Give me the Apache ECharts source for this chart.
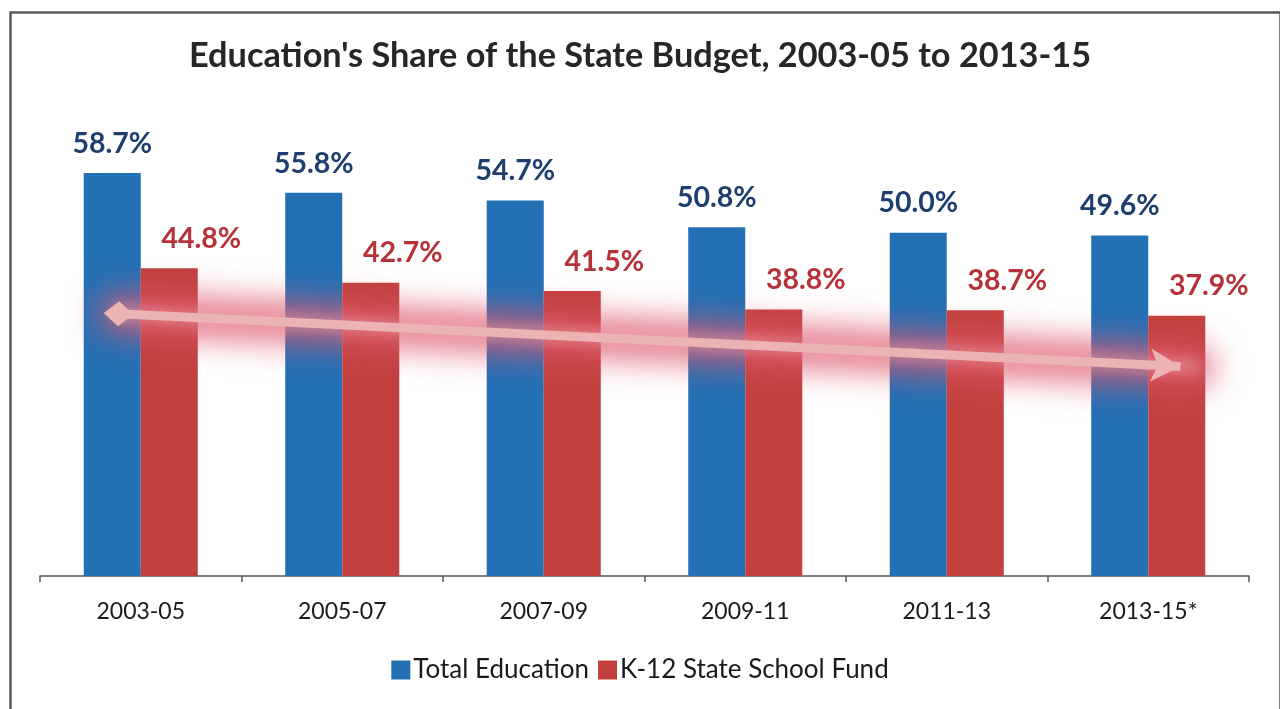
<!DOCTYPE html>
<html>
<head>
<meta charset="utf-8">
<title>Education's Share of the State Budget</title>
<script src="https://cdn.jsdelivr.net/npm/echarts@6/dist/echarts.min.js"></script>
<style>
  html, body { margin: 0; padding: 0; background: #ffffff; }
  #chart { width: 1280px; height: 709px; }
</style>
</head>
<body>
<div id="chart"></div>
<script>
// Biennia shown on the category axis
const biennia = ['2003-05', '2005-07', '2007-09', '2009-11', '2011-13', '2013-15*'];
// Share of the state budget, percent
const totalEducation = [58.7, 55.8, 54.7, 50.8, 50.0, 49.6];
const k12SchoolFund = [44.8, 42.7, 41.5, 38.8, 38.7, 37.9];
// Downward trend arrow, [position along the biennia (0-6), percent]
const trendStart = [0.39, 38.2];
const trendEnd = [5.66, 30.5];

const FONT = 'Lato, "Open Sans", sans-serif';
const chart = echarts.init(document.getElementById('chart'), null, { renderer: 'canvas' });

chart.setOption({
  backgroundColor: '#ffffff',
  animation: false,
  title: {
    text: "Education's Share of the State Budget, 2003-05 to 2013-15",
    left: 'center',
    top: 34,
    textStyle: { fontFamily: FONT, fontWeight: 'bold', fontSize: 34.3, color: '#262626' }
  },
  legend: {
    bottom: 21,
    left: 'center',
    icon: 'rect',
    itemWidth: 19,
    itemHeight: 19,
    itemGap: 9,
    data: ['Total Education', 'K-12 State School Fund'],
    textStyle: { fontFamily: FONT, fontSize: 26, color: '#1a1a1a', padding: [0, 0, 0, -2] }
  },
  grid: { left: 40, right: 31, top: 164, bottom: 133, containLabel: false },
  xAxis: [
    {
      type: 'category',
      data: biennia,
      axisLine: { lineStyle: { color: '#555555', width: 1.5 } },
      axisTick: { show: true, length: 6, lineStyle: { color: '#555555', width: 1.5 } },
      axisLabel: { fontFamily: FONT, fontSize: 23, color: '#1a1a1a', margin: 24 }
    },
    { type: 'value', min: 0, max: 6, show: false }
  ],
  yAxis: { type: 'value', min: 0, max: 60, show: false },
  series: [
    {
      name: 'Total Education',
      type: 'bar',
      data: totalEducation,
      barWidth: '28.3%',
      barGap: '0%',
      itemStyle: { color: '#2470b5' },
      label: {
        show: true, position: 'top', distance: 15,
        formatter: p => p.value.toFixed(1) + '%',
        fontFamily: FONT, fontWeight: 'bold', fontSize: 28.5, color: '#1e3f6d'
      }
    },
    {
      name: 'K-12 State School Fund',
      type: 'bar',
      data: k12SchoolFund,
      barWidth: '28.3%',
      itemStyle: { color: '#c2413f' },
      label: {
        show: true, position: 'top', distance: 15, offset: [32, 0],
        formatter: p => p.value.toFixed(1) + '%',
        fontFamily: FONT, fontWeight: 'bold', fontSize: 28.5, color: '#b5323a'
      }
    },
    {
      // the trend arrow itself
      type: 'line',
      xAxisIndex: 1,
      data: [],
      silent: true,
      markLine: {
        silent: true,
        symbol: ['diamond', 'arrow'],
        symbolSize: [25, 30],
        label: { show: false },
        lineStyle: { type: 'solid', width: 9, color: '#ebb3b1', opacity: 1 },
        itemStyle: { color: '#ebb3b1' },
        data: [[{ coord: trendStart }, { coord: trendEnd }]]
      },
      z: 6
    }
  ],
  graphic: [
    {
      id: 'frame',
      type: 'rect',
      left: 8, top: 10,
      shape: { width: 1270, height: 720 },
      style: { fill: 'none', stroke: '#5a5a5a', lineWidth: 2.5 },
      silent: true,
      z: 100
    }
  ]
});

// Soft glow behind the trend arrow: an opaque stroke drawn far off-canvas,
// so that only its blurred shadow (shifted back into place) is visible.
const toPx = v => chart.convertToPixel({ xAxisIndex: 1, yAxisIndex: 0 }, v);
const a = toPx(trendStart);
const b = toPx(trendEnd);
const SHIFT = 3000;
const glow = (width, blur, color) => ({
  type: 'polyline',
  silent: true,
  z: 5,
  shape: { points: [[a[0], a[1] - SHIFT], [b[0] + 14, b[1] - SHIFT]] },
  style: {
    fill: null,
    stroke: '#000',
    lineWidth: width,
    lineCap: 'round',
    shadowBlur: blur,
    shadowColor: color,
    shadowOffsetY: SHIFT
  }
});
chart.setOption({
  graphic: [
    Object.assign({ id: 'glowOuter' }, glow(40, 32, 'rgba(222, 88, 108, 0.82)')),
    Object.assign({ id: 'glowInner' }, glow(14, 14, 'rgba(238, 170, 178, 0.55)'))
  ]
});
</script>
</body>
</html>
